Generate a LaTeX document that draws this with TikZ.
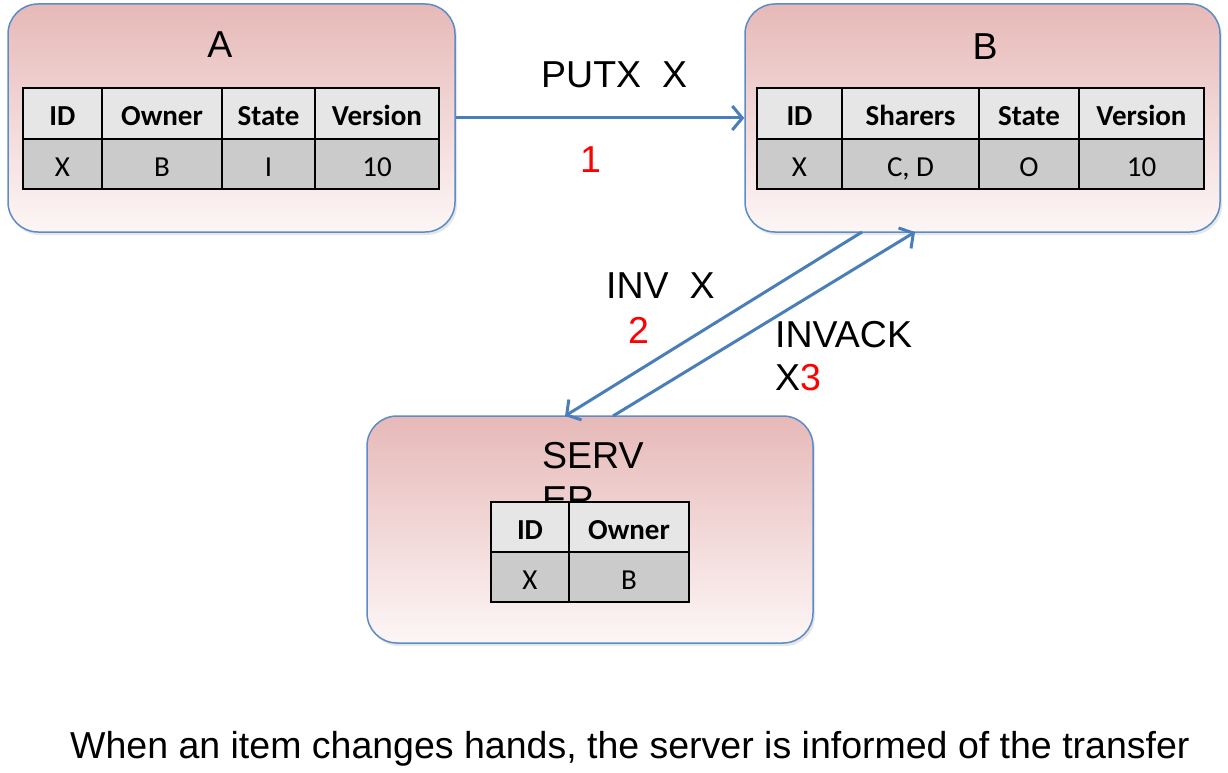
\documentclass[tikz,border=0pt]{standalone}
\usepackage{fontspec}
\setmainfont{Liberation Sans}
\newfontfamily\tabfont{Carlito}
\usetikzlibrary{arrows.meta,shadows}
\definecolor{bord}{HTML}{5B8CC8}
\definecolor{arr}{HTML}{4A7EBB}
\definecolor{pinktop}{HTML}{E6B9B8}
\definecolor{pinkbot}{HTML}{FDF6F6}
\definecolor{hdrfill}{HTML}{E6E6E6}
\definecolor{datfill}{HTML}{CBCBCB}
\tikzset{
 box/.style={draw=bord, line width=1.5pt, rounded corners=30pt, top color=pinktop, bottom color=pinkbot,
   drop shadow={opacity=0.2,shadow xshift=2pt,shadow yshift=-3pt}, inner sep=0pt},
 cell/.style={draw=black, line width=2pt, minimum height=50pt, inner sep=0pt, text height=25pt, text depth=0pt},
 hdr/.style={cell, fill=hdrfill, font=\tabfont\bfseries\fontsize{29}{34}\selectfont},
 dat/.style={cell, fill=datfill, font=\tabfont\fontsize{29}{34}\selectfont},
 lbl/.style={font=\fontsize{37.5}{45}\selectfont, inner sep=0pt, anchor=base west},
 num/.style={lbl, text=red},
 msg/.style={draw=arr, line width=3pt, -{Straight Barb[length=10pt,width=24pt,line width=3pt]}},
}
\begin{document}
\begin{tikzpicture}[x=1pt,y=-1pt]
\useasboundingbox (0,0) rectangle (1228,773);
% boxes
\node[box, minimum width=447pt, minimum height=228pt] (A) at (231.5,118) {};
\node[box, minimum width=475pt, minimum height=228pt] (B) at (982.5,118) {};
\node[box, minimum width=446pt, minimum height=227pt] (S) at (590,529.5) {};
% titles
\node[lbl, anchor=base] (tA) at (220,58) {A};
\node[lbl, anchor=base] (tB) at (985,60) {B};
\node[lbl] (tS1) at (542,468) {SERV};
\node[lbl] (tS2) at (542,512) {ER};
% table A
\node[hdr, minimum width=79pt]  (a11) at (62.5,113.5) {ID};
\node[hdr, minimum width=120pt] (a12) at (162,113.5) {Owner};
\node[hdr, minimum width=93pt]  (a13) at (268.5,113.5) {State};
\node[hdr, minimum width=124pt] (a14) at (377,113.5) {Version};
\node[dat, minimum width=79pt]  (a21) at (62.5,163.5) {X};
\node[dat, minimum width=120pt] (a22) at (162,163.5) {B};
\node[dat, minimum width=93pt]  (a23) at (268.5,163.5) {I};
\node[dat, minimum width=124pt] (a24) at (377,163.5) {10};
% table B
\node[hdr, minimum width=85pt]  (b11) at (799.5,113.5) {ID};
\node[hdr, minimum width=137pt] (b12) at (910.5,113.5) {Sharers};
\node[hdr, minimum width=100pt] (b13) at (1029,113.5) {State};
\node[hdr, minimum width=125pt] (b14) at (1141.5,113.5) {Version};
\node[dat, minimum width=85pt]  (b21) at (799.5,163.5) {X};
\node[dat, minimum width=137pt] (b22) at (910.5,163.5) {C, D};
\node[dat, minimum width=100pt] (b23) at (1029,163.5) {O};
\node[dat, minimum width=125pt] (b24) at (1141.5,163.5) {10};
% table server
\node[hdr, minimum width=78pt]  (s11) at (530,526.5) {ID};
\node[hdr, minimum width=120pt] (s12) at (629,526.5) {Owner};
\node[dat, minimum width=78pt]  (s21) at (530,577) {X};
\node[dat, minimum width=120pt] (s22) at (629,577) {B};
% connectors
\coordinate (b1) at (862,232);
\coordinate (s1) at (565,416);
\coordinate (s2) at (613,416);
\coordinate (b2) at (915,232);
\draw[msg] (A.east) -- (B.west);
\draw[msg] (b1) -- (s1);
\draw[msg] (s2) -- (b2);
% labels
\node[lbl] (l1) at (541,88) {PUTX\ \ X};
\node[num] (n1) at (580,172) {1};
\node[lbl] (l2) at (606,298) {INV\ \ X};
\node[num] (n2) at (628,343) {2};
\node[lbl] (l3) at (775,347) {INVACK};
\node[lbl] (l3b) at (775,390) {X\textcolor{red}{3}};
\node[lbl] (cap) at (70,758) {When an item changes hands, the server is informed of the transfer};
\end{tikzpicture}
\end{document}
